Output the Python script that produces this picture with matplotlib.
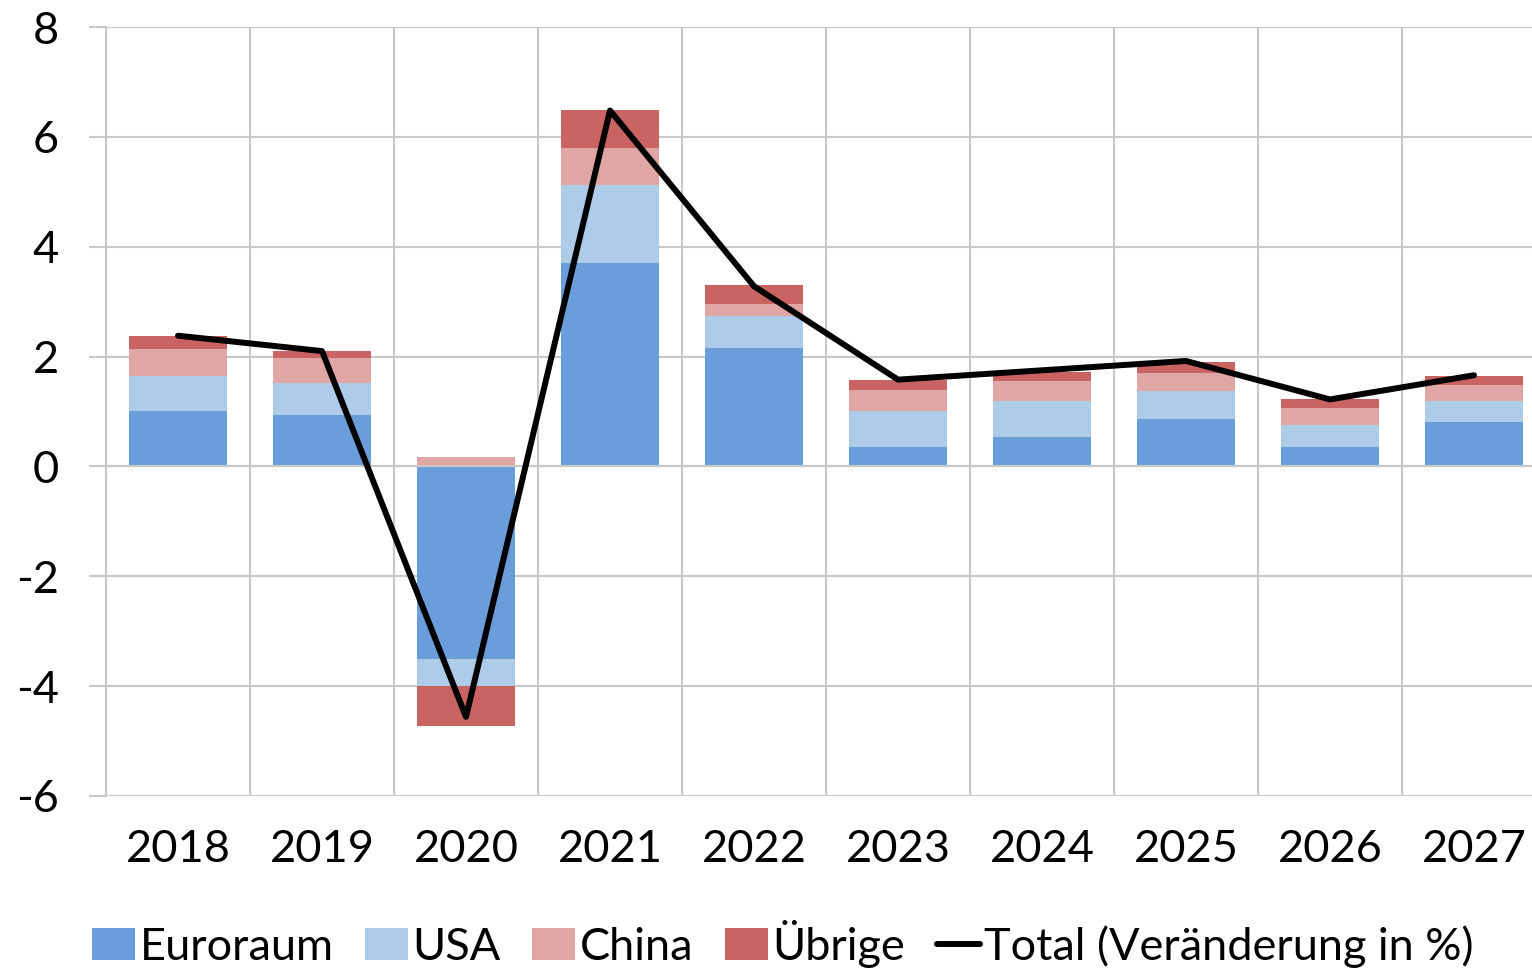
import matplotlib
matplotlib.use('Agg')
import matplotlib.pyplot as plt
import matplotlib.transforms as mtransforms
import numpy as np

plt.rcParams['font.family'] = ['Lato', 'DejaVu Sans']

years = ['2018', '2019', '2020', '2021', '2022', '2023', '2024', '2025', '2026', '2027']
euroraum = [1.01, 0.93, -3.51, 3.70, 2.15, 0.35, 0.53, 0.87, 0.35, 0.81]
usa = [0.64, 0.59, -0.48, 1.42, 0.59, 0.66, 0.67, 0.51, 0.41, 0.38]
china = [0.48, 0.45, 0.17, 0.68, 0.22, 0.39, 0.35, 0.33, 0.30, 0.29]
uebrige = [0.25, 0.14, -0.74, 0.68, 0.34, 0.18, 0.17, 0.20, 0.16, 0.17]
total = [2.38, 2.10, -4.56, 6.48, 3.28, 1.58, 1.75, 1.92, 1.22, 1.66]

series = [('Euroraum', euroraum, '#6b9dda'),
          ('USA', usa, '#aecbe8'),
          ('China', china, '#e0a6a6'),
          ('Übrige', uebrige, '#c96462')]

grid_col = '#c8c8c8'
fs = 32.5

fig = plt.figure(figsize=(15.32, 9.71), dpi=100)
ax = fig.add_axes([106 / 1532, 175 / 971, 1440 / 1532, 769 / 971])

x = np.arange(len(years))
pos_base = np.zeros(len(years))
neg_base = np.zeros(len(years))
handles = []
for name, vals, col in series:
    vals = np.array(vals)
    base = np.where(vals >= 0, pos_base, neg_base)
    h = ax.bar(x, vals, width=0.68, bottom=base, color=col, label=name, zorder=2)
    handles.append(h)
    pos_base += np.where(vals >= 0, vals, 0)
    neg_base += np.where(vals < 0, vals, 0)

line, = ax.plot(x, total, color='black', lw=4.3, label='Total (Veränderung in %)',
                zorder=3, solid_capstyle='round')
handles.append(line)

ax.set_xlim(-0.5, len(years) - 0.5)
ax.set_ylim(-6, 8)
ax.set_yticks(np.arange(-6, 9, 2))
ax.set_yticklabels([str(v) for v in range(-6, 9, 2)], fontsize=fs)

# category boundaries as ticks on the zero line
ax.set_xticks(np.arange(-0.5, len(years), 1))
ax.set_xticklabels([])
ax.spines['bottom'].set_position(('data', 0))
for s in ['top', 'right']:
    ax.spines[s].set_visible(False)
for s in ['left', 'bottom']:
    ax.spines[s].set_color(grid_col)
    ax.spines[s].set_linewidth(1.5)
ax.tick_params(axis='both', length=12, width=1.5, color=grid_col, direction='out')
ax.tick_params(axis='y', pad=22)
ax.grid(True, color=grid_col, lw=1.5, zorder=0)
ax.set_axisbelow(True)

trans = mtransforms.blended_transform_factory(ax.transData, ax.transAxes)
for xi, lab in zip(x, years):
    ax.text(xi, -0.07, lab, transform=trans, ha='center', va='center', fontsize=fs)

fig.legend(handles=handles, loc='center', bbox_to_anchor=(0.511, 0.028),
           ncol=5, frameon=False, fontsize=fs, handlelength=0.95, handleheight=0.7,
           handletextpad=0.1, columnspacing=0.7, borderaxespad=0, borderpad=0)

fig.savefig('out.png', dpi=100)
